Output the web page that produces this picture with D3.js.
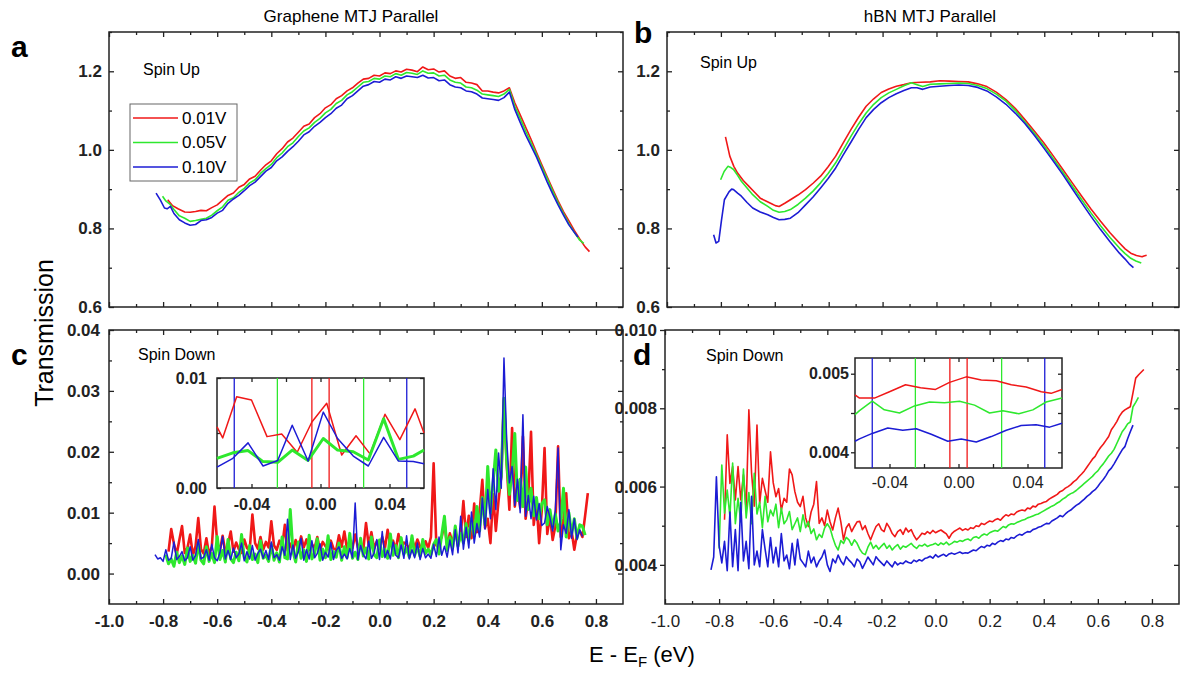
<!DOCTYPE html>
<meta charset="utf-8">
<style>
body { margin: 0; background: #fff; }
text { font-family: Arial, "Liberation Sans", sans-serif; }
.frame { fill: none; stroke: #222; stroke-width: 1.5px; }
.line { fill: none; stroke-linejoin: round; }
</style>
<body>
<script src="https://d3js.org/d3.v7.min.js"></script>
<script>

// ---------------- data ----------------
var biasLabels = ["0.01V", "0.05V", "0.10V"];
var colors = ["#f01818", "#2ee82e", "#1c1cd4"];

var xTickValues = [-1.0, -0.8, -0.6, -0.4, -0.2, 0.0, 0.2, 0.4, 0.6, 0.8];
var xMinorValues = [-0.9, -0.7, -0.5, -0.3, -0.1, 0.1, 0.3, 0.5, 0.7];
var upTickValues = [0.6, 0.8, 1.0, 1.2];
var upMinorValues = [0.7, 0.9, 1.1, 1.3];
var cTickValues = [0.00, 0.01, 0.02, 0.03, 0.04];
var cMinorValues = [0.005, 0.015, 0.025, 0.035];
var dTickValues = [0.004, 0.006, 0.008, 0.010];
var dMinorValues = [0.005, 0.007, 0.009];
var insetXTicks = [-0.04, 0.00, 0.04];
var insetXMinor = [-0.02, 0.02];
var insetCYTicks = [0.00, 0.01];
var insetDYTicks = [0.004, 0.005];
var halfBias = [0.005, 0.025, 0.05];   // +-V/2 markers in the insets

// panel a : graphene, spin up  [E, T]
var aRed = [[-0.783,0.873],[-0.765,0.858],[-0.745,0.850],[-0.72,0.842],[-0.70,0.841],[-0.68,0.843],[-0.66,0.846],[-0.64,0.845],[-0.62,0.853],[-0.60,0.860],[-0.58,0.872],[-0.56,0.884],[-0.54,0.890],[-0.52,0.905],[-0.50,0.912],[-0.48,0.926],[-0.46,0.933],[-0.44,0.948],[-0.42,0.962],[-0.40,0.972],[-0.38,0.990],[-0.36,1.003],[-0.34,1.020],[-0.32,1.030],[-0.30,1.045],[-0.28,1.060],[-0.26,1.066],[-0.24,1.082],[-0.22,1.092],[-0.20,1.107],[-0.18,1.115],[-0.16,1.130],[-0.14,1.138],[-0.12,1.150],[-0.10,1.158],[-0.08,1.170],[-0.06,1.180],[-0.04,1.182],[-0.02,1.190],[0.00,1.188],[0.02,1.196],[0.04,1.194],[0.06,1.201],[0.08,1.198],[0.10,1.205],[0.12,1.203],[0.14,1.199],[0.16,1.211],[0.18,1.204],[0.20,1.206],[0.22,1.198],[0.24,1.201],[0.26,1.188],[0.28,1.182],[0.30,1.184],[0.32,1.172],[0.34,1.170],[0.36,1.166],[0.38,1.150],[0.40,1.150],[0.42,1.147],[0.44,1.145],[0.46,1.150],[0.48,1.158],[0.50,1.120],[0.52,1.089],[0.54,1.058],[0.56,1.027],[0.58,0.994],[0.60,0.962],[0.62,0.931],[0.64,0.900],[0.66,0.870],[0.68,0.843],[0.70,0.819],[0.72,0.795],[0.74,0.773],[0.76,0.753],[0.776,0.741]];
var aGreen = [[-0.802,0.882],[-0.79,0.870],[-0.775,0.862],[-0.76,0.848],[-0.74,0.832],[-0.72,0.826],[-0.70,0.818],[-0.68,0.820],[-0.66,0.823],[-0.64,0.826],[-0.62,0.834],[-0.60,0.845],[-0.58,0.855],[-0.56,0.872],[-0.54,0.878],[-0.52,0.892],[-0.50,0.902],[-0.48,0.916],[-0.46,0.924],[-0.44,0.940],[-0.42,0.952],[-0.40,0.963],[-0.38,0.980],[-0.36,0.992],[-0.34,1.008],[-0.32,1.018],[-0.30,1.034],[-0.28,1.048],[-0.26,1.056],[-0.24,1.070],[-0.22,1.080],[-0.20,1.094],[-0.18,1.103],[-0.16,1.118],[-0.14,1.126],[-0.12,1.140],[-0.10,1.148],[-0.08,1.160],[-0.06,1.172],[-0.04,1.174],[-0.02,1.182],[0.00,1.180],[0.02,1.188],[0.04,1.186],[0.06,1.194],[0.08,1.190],[0.10,1.197],[0.12,1.195],[0.14,1.192],[0.16,1.201],[0.18,1.195],[0.20,1.196],[0.22,1.188],[0.24,1.190],[0.26,1.178],[0.28,1.172],[0.30,1.170],[0.32,1.160],[0.34,1.158],[0.36,1.152],[0.38,1.142],[0.40,1.140],[0.42,1.138],[0.44,1.136],[0.46,1.142],[0.48,1.154],[0.50,1.111],[0.52,1.080],[0.54,1.048],[0.56,1.018],[0.58,0.988],[0.60,0.956],[0.62,0.926],[0.64,0.895],[0.66,0.865],[0.68,0.838],[0.70,0.812],[0.72,0.790],[0.74,0.770],[0.755,0.762]];
var aBlue = [[-0.826,0.890],[-0.81,0.872],[-0.795,0.852],[-0.785,0.850],[-0.773,0.856],[-0.76,0.838],[-0.74,0.822],[-0.72,0.814],[-0.70,0.808],[-0.68,0.810],[-0.66,0.820],[-0.64,0.822],[-0.62,0.828],[-0.60,0.839],[-0.58,0.846],[-0.56,0.864],[-0.54,0.875],[-0.52,0.884],[-0.50,0.896],[-0.48,0.909],[-0.46,0.918],[-0.44,0.932],[-0.42,0.946],[-0.40,0.955],[-0.38,0.972],[-0.36,0.982],[-0.34,0.996],[-0.32,1.008],[-0.30,1.022],[-0.28,1.038],[-0.26,1.046],[-0.24,1.060],[-0.22,1.070],[-0.20,1.082],[-0.18,1.092],[-0.16,1.106],[-0.14,1.114],[-0.12,1.130],[-0.10,1.138],[-0.08,1.150],[-0.06,1.162],[-0.04,1.166],[-0.02,1.174],[0.00,1.172],[0.02,1.180],[0.04,1.178],[0.06,1.186],[0.08,1.182],[0.10,1.188],[0.12,1.186],[0.14,1.184],[0.16,1.190],[0.18,1.183],[0.20,1.184],[0.22,1.176],[0.24,1.178],[0.26,1.166],[0.28,1.160],[0.30,1.158],[0.32,1.150],[0.34,1.148],[0.36,1.142],[0.38,1.132],[0.40,1.130],[0.42,1.128],[0.44,1.126],[0.46,1.133],[0.48,1.147],[0.50,1.103],[0.52,1.070],[0.54,1.038],[0.56,1.010],[0.58,0.982],[0.60,0.950],[0.62,0.918],[0.64,0.888],[0.66,0.860],[0.68,0.834],[0.70,0.809],[0.72,0.790],[0.733,0.778]];

// panel b : hBN, spin up  [E, T]
var bRed = [[-0.783,1.033],[-0.767,0.984],[-0.752,0.958],[-0.738,0.941],[-0.717,0.922],[-0.696,0.907],[-0.675,0.892],[-0.654,0.877],[-0.633,0.870],[-0.612,0.863],[-0.598,0.858],[-0.584,0.856],[-0.563,0.864],[-0.542,0.873],[-0.514,0.885],[-0.486,0.899],[-0.458,0.915],[-0.430,0.933],[-0.402,0.957],[-0.374,0.984],[-0.346,1.018],[-0.317,1.052],[-0.289,1.083],[-0.261,1.111],[-0.233,1.130],[-0.205,1.146],[-0.177,1.155],[-0.149,1.162],[-0.121,1.166],[-0.093,1.171],[-0.058,1.172],[-0.023,1.173],[0.012,1.176],[0.048,1.175],[0.083,1.174],[0.118,1.173],[0.153,1.168],[0.187,1.161],[0.222,1.147],[0.258,1.128],[0.293,1.105],[0.328,1.077],[0.363,1.048],[0.398,1.018],[0.434,0.984],[0.469,0.950],[0.504,0.916],[0.539,0.882],[0.574,0.849],[0.609,0.818],[0.644,0.789],[0.679,0.763],[0.700,0.748],[0.721,0.737],[0.742,0.731],[0.763,0.728],[0.770,0.730],[0.780,0.732]];
var bGreen = [[-0.801,0.924],[-0.788,0.945],[-0.774,0.958],[-0.763,0.955],[-0.753,0.950],[-0.738,0.935],[-0.724,0.920],[-0.703,0.903],[-0.682,0.886],[-0.654,0.868],[-0.626,0.856],[-0.605,0.846],[-0.584,0.841],[-0.563,0.843],[-0.542,0.848],[-0.514,0.861],[-0.486,0.877],[-0.458,0.895],[-0.430,0.916],[-0.402,0.940],[-0.374,0.967],[-0.346,1.000],[-0.317,1.035],[-0.289,1.066],[-0.261,1.094],[-0.233,1.116],[-0.205,1.133],[-0.177,1.145],[-0.149,1.154],[-0.121,1.163],[-0.093,1.171],[-0.072,1.166],[-0.051,1.161],[-0.023,1.167],[0.012,1.168],[0.048,1.169],[0.083,1.170],[0.118,1.169],[0.153,1.164],[0.187,1.156],[0.222,1.142],[0.258,1.124],[0.293,1.100],[0.328,1.071],[0.363,1.042],[0.398,1.011],[0.434,0.977],[0.469,0.943],[0.504,0.908],[0.539,0.873],[0.574,0.839],[0.609,0.807],[0.644,0.777],[0.679,0.750],[0.700,0.736],[0.721,0.724],[0.740,0.717],[0.760,0.712]];
var bBlue = [[-0.827,0.784],[-0.818,0.763],[-0.808,0.767],[-0.798,0.820],[-0.787,0.873],[-0.770,0.893],[-0.760,0.900],[-0.753,0.899],[-0.738,0.890],[-0.724,0.882],[-0.703,0.866],[-0.682,0.852],[-0.654,0.842],[-0.626,0.835],[-0.605,0.828],[-0.584,0.822],[-0.563,0.823],[-0.542,0.826],[-0.514,0.840],[-0.486,0.860],[-0.458,0.880],[-0.430,0.903],[-0.402,0.927],[-0.374,0.954],[-0.346,0.987],[-0.317,1.020],[-0.289,1.052],[-0.261,1.082],[-0.233,1.103],[-0.205,1.120],[-0.177,1.133],[-0.149,1.143],[-0.121,1.151],[-0.093,1.158],[-0.072,1.158],[-0.051,1.154],[-0.023,1.160],[0.012,1.162],[0.048,1.164],[0.083,1.165],[0.118,1.164],[0.153,1.159],[0.187,1.150],[0.222,1.135],[0.258,1.116],[0.293,1.093],[0.328,1.067],[0.363,1.037],[0.398,1.005],[0.434,0.971],[0.469,0.937],[0.504,0.901],[0.539,0.865],[0.574,0.830],[0.609,0.797],[0.644,0.766],[0.679,0.737],[0.700,0.722],[0.715,0.710],[0.731,0.700]];

// panels c, d : spin down on a 0.01 eV grid, values in units of 1e-3
var gridStep = 0.01;
var cRedStart = -0.78, cGreenStart = -0.79, cBlueStart = -0.83;
var cRed = [3.6,7.3,4.9,3.1,5.5,7.8,3.4,4.2,6.4,3.0,
  4.5,9.1,4.0,3.3,5.8,3.1,4.4,11.0,5.0,3.8,
  6.2,3.5,4.8,6.9,3.6,5.1,4.0,3.4,5.6,4.2,
  3.8,9.7,5.0,4.1,6.0,3.9,5.2,4.3,8.6,4.6,
  3.9,5.4,4.4,8.0,3.8,4.9,3.7,5.5,4.0,6.1,
  4.3,5.6,3.9,4.8,4.2,6.0,3.8,5.2,4.5,4.0,
  5.4,4.1,3.9,6.3,4.4,6.9,4.0,5.5,4.2,6.4,
  4.3,5.0,3.9,8.3,4.6,6.8,4.1,5.3,4.4,6.0,
  4.2,7.2,4.6,5.4,3.9,6.5,4.3,5.1,4.8,4.0,
  5.8,4.1,5.6,4.4,3.9,5.3,4.2,6.0,18.1,4.6,
  5.2,6.0,8.3,4.5,6.6,5.0,7.0,4.8,6.2,11.9,
  6.0,9.5,5.8,11.5,6.8,10.2,15.4,7.5,9.0,5.0,
  13.0,7.0,12.0,16.0,28.5,18.0,10.5,23.9,11.0,14.5,
  10.8,22.5,9.0,12.5,23.3,8.0,12.0,5.0,10.5,20.6,
  6.5,9.5,5.5,7.8,20.9,6.0,9.0,13.2,5.8,7.0,
  3.9,6.5,7.0,6.0,9.5,13.2];
var cGreen = [3.1,1.6,2.4,1.2,3.5,1.8,2.9,1.5,4.2,2.0,
  3.0,1.7,5.0,2.2,1.6,4.4,2.0,3.3,1.8,6.1,
  2.3,3.8,1.9,5.6,2.4,1.8,3.5,2.1,6.4,2.6,
  1.9,4.6,2.3,3.2,1.8,5.4,2.5,3.0,2.0,4.8,
  2.2,3.4,1.9,6.0,2.6,2.4,10.5,3.6,1.9,5.2,
  2.5,3.9,2.0,6.3,2.4,3.3,5.7,2.2,4.0,2.6,
  6.2,2.3,3.6,2.7,5.0,2.2,4.4,2.6,6.6,2.5,
  3.5,2.3,5.8,2.9,4.2,2.4,6.0,3.1,2.6,5.5,
  2.8,4.0,2.5,6.5,3.0,4.6,2.6,5.9,3.2,4.1,
  2.7,6.2,3.0,4.4,2.8,5.6,3.3,4.0,3.1,4.8,
  5.6,3.2,6.4,9.4,3.8,6.0,4.2,7.8,4.5,6.6,
  5.0,8.2,5.5,9.0,6.2,11.0,7.0,12.5,8.0,17.6,
  10.0,15.0,20.3,13.5,16.0,28.8,18.5,13.0,16.5,23.0,
  12.0,15.5,11.0,17.5,10.5,14.0,9.5,12.5,9.0,11.5,
  12.1,8.0,10.5,7.5,9.8,7.0,8.5,14.0,6.0,10.0,
  6.5,9.0,5.8,8.0,7.8,6.3];
var cBlue = [3.1,2.4,2.6,2.0,3.9,2.2,2.5,5.2,2.3,2.8,
  3.6,2.1,2.6,4.4,2.2,3.0,5.6,2.4,2.7,3.9,
  2.2,4.8,2.6,2.1,3.4,6.1,2.4,3.8,2.3,4.2,
  2.6,3.2,5.0,2.1,3.6,2.4,4.6,2.2,3.3,4.0,
  2.5,3.8,2.3,5.2,2.6,3.1,2.2,4.4,3.0,8.9,
  2.3,4.7,2.5,3.6,5.8,2.2,3.9,2.4,5.4,2.6,
  3.3,4.9,2.2,3.5,2.7,5.1,2.3,3.8,4.4,2.5,
  3.2,2.4,4.1,2.6,11.6,2.3,4.6,3.1,2.4,5.3,
  2.5,3.4,5.6,2.3,6.9,2.6,3.8,2.4,5.2,3.0,
  2.6,4.7,2.5,6.2,2.4,3.9,2.6,5.0,2.3,4.1,
  2.6,3.2,2.5,4.8,2.8,6.0,3.0,4.5,2.7,5.5,
  3.1,7.2,3.4,9.4,4.0,7.6,4.2,10.1,5.0,8.2,
  6.0,12.4,7.3,13.8,9.0,17.2,10.5,19.8,14.0,35.4,
  22.0,14.9,17.6,11.2,15.5,10.0,26.1,9.4,12.8,9.0,
  12.7,8.8,11.5,7.9,8.3,11.0,9.2,7.0,10.5,20.6,
  3.9,8.0,6.6,10.5,5.8,9.0,5.6,7.2,6.1];

var dRedStart = -0.78, dGreenStart = -0.80, dBlueStart = -0.83;
var dRed = [5.15,7.32,6.08,6.51,5.66,6.51,5.66,6.30,5.40,7.96,
  6.34,5.50,7.57,5.57,6.21,5.90,5.60,6.89,6.10,5.74,
  5.95,5.40,5.70,5.60,6.45,6.30,5.87,5.60,5.49,5.75,
  5.20,4.98,5.35,5.55,6.13,5.06,5.20,5.00,5.40,5.10,
  4.89,5.20,5.45,5.10,4.64,4.95,5.05,4.85,4.98,5.10,
  5.11,4.90,5.00,4.80,4.64,4.82,4.98,5.05,4.90,4.85,
  5.06,4.95,4.80,4.72,4.85,4.90,4.78,4.94,4.84,4.90,
  4.75,4.64,4.72,4.81,4.78,4.85,4.80,4.88,4.82,4.86,
  4.89,4.84,4.79,4.68,4.80,4.86,4.90,4.94,4.88,4.92,
  4.89,4.95,4.93,5.00,4.98,5.06,5.03,5.08,5.12,5.10,
  5.15,5.18,5.14,5.22,5.28,5.25,5.30,5.28,5.35,5.38,
  5.40,5.38,5.45,5.43,5.50,5.48,5.55,5.57,5.60,5.62,
  5.68,5.72,5.76,5.80,5.87,5.90,5.96,6.00,6.05,6.12,
  6.17,6.25,6.32,6.40,6.50,6.60,6.70,6.77,6.90,7.00,
  7.08,7.18,7.28,7.45,7.55,7.66,7.80,7.90,7.96,8.00,
  8.04,8.40,8.77,8.85,8.92,8.99];
var dGreen = [4.42,6.55,5.32,5.91,5.23,6.60,5.05,5.70,5.10,6.45,
  5.20,5.85,5.05,6.34,5.30,5.60,4.95,5.75,5.10,5.40,
  5.25,5.55,4.95,5.45,5.05,5.15,5.36,4.90,5.05,5.20,
  4.85,5.28,4.95,5.10,4.80,4.92,4.64,4.78,4.70,4.94,
  5.05,4.94,4.70,4.50,4.38,4.62,4.55,4.70,4.64,4.50,
  4.64,4.55,4.40,4.30,4.26,4.45,4.58,4.42,4.50,4.40,
  4.48,4.55,4.42,4.50,4.38,4.46,4.52,4.40,4.48,4.45,
  4.50,4.55,4.47,4.42,4.50,4.48,4.53,4.47,4.50,4.52,
  4.55,4.50,4.56,4.52,4.58,4.51,4.55,4.60,4.58,4.62,
  4.60,4.64,4.66,4.62,4.70,4.72,4.68,4.75,4.79,4.76,
  4.82,4.85,4.88,4.86,4.92,4.98,4.95,5.02,5.05,5.04,
  5.08,5.11,5.14,5.16,5.20,5.22,5.25,5.28,5.30,5.34,
  5.38,5.42,5.46,5.50,5.53,5.58,5.62,5.68,5.72,5.78,
  5.82,5.85,5.90,5.96,6.02,6.08,6.14,6.20,6.26,6.34,
  6.40,6.50,6.58,6.68,6.78,6.85,6.95,7.10,7.25,7.40,
  7.49,7.60,7.65,8.04,8.15,8.28];
var dBlue = [3.87,4.20,6.25,4.50,4.05,4.60,3.85,5.35,3.95,4.90,
  3.85,5.60,4.10,4.60,3.90,5.75,4.00,4.35,3.95,4.90,
  4.40,3.95,4.70,4.05,4.45,3.95,4.80,4.10,4.25,3.90,
  4.55,4.00,4.65,4.15,4.05,3.95,4.35,4.05,4.20,3.95,
  4.10,4.20,4.38,4.00,3.83,4.15,4.05,4.25,4.10,4.00,
  4.21,4.12,4.05,3.95,4.15,4.08,3.91,4.05,4.20,4.10,
  4.00,4.21,4.12,4.05,3.98,4.10,4.02,3.95,4.08,4.00,
  4.05,4.03,4.10,4.06,4.04,4.12,4.08,4.13,4.10,4.16,
  4.18,4.22,4.17,4.26,4.20,4.24,4.27,4.22,4.28,4.30,
  4.27,4.30,4.33,4.29,4.31,4.30,4.34,4.38,4.36,4.42,
  4.47,4.44,4.50,4.48,4.55,4.52,4.58,4.62,4.60,4.66,
  4.64,4.70,4.68,4.74,4.78,4.76,4.81,4.85,4.84,4.90,
  4.92,4.96,4.98,5.02,5.06,5.05,5.12,5.16,5.20,5.26,
  5.23,5.30,5.36,5.40,5.46,5.52,5.56,5.62,5.68,5.75,
  5.80,5.87,5.92,6.00,6.10,6.18,6.28,6.40,6.47,6.58,
  6.70,6.82,6.94,7.02,7.22,7.40,7.57];

// insets (zoom near E_F)  [E, T]
var icRed = [[-0.060,0.00555],[-0.0567,0.00455],[-0.0486,0.0083],[-0.040,0.0080],[-0.031,0.00467],[-0.0225,0.0049],[-0.0135,0.00325],[-0.005,0.0060],[0.0036,0.0077],[0.0123,0.0030],[0.0206,0.00475],[0.0287,0.0031],[0.0374,0.0067],[0.046,0.0044],[0.0548,0.0072],[0.060,0.0050]];
var icGreen = [[-0.060,0.0027],[-0.0508,0.0032],[-0.042,0.0034],[-0.0333,0.0024],[-0.0248,0.00233],[-0.0164,0.00345],[-0.0072,0.0025],[0.0016,0.0045],[0.0099,0.00345],[0.019,0.0033],[0.0277,0.00255],[0.0366,0.0063],[0.0452,0.0026],[0.0538,0.0029],[0.060,0.00345]];
var icBlue = [[-0.060,0.0019],[-0.0508,0.0027],[-0.042,0.0041],[-0.0333,0.0020],[-0.0248,0.0025],[-0.0164,0.0057],[-0.0072,0.00245],[0.0016,0.0069],[0.0099,0.0045],[0.019,0.0029],[0.0277,0.0020],[0.0366,0.0046],[0.0452,0.00245],[0.0538,0.0024],[0.060,0.0022]];
var idRed = [[-0.060,0.00473],[-0.0574,0.00469],[-0.0487,0.00469],[-0.040,0.00477],[-0.0307,0.00486],[-0.022,0.00482],[-0.0133,0.0048],[-0.0052,0.00489],[0.0045,0.00496],[0.0132,0.00492],[0.0219,0.00491],[0.0306,0.00486],[0.0392,0.00483],[0.048,0.00477],[0.0537,0.00475],[0.060,0.0048]];
var idGreen = [[-0.060,0.00448],[-0.0574,0.00453],[-0.050,0.00465],[-0.043,0.00454],[-0.0342,0.0045],[-0.0255,0.00459],[-0.0168,0.00464],[-0.0081,0.00463],[0.0006,0.00465],[0.0093,0.0046],[0.018,0.0045],[0.0257,0.00453],[0.035,0.00449],[0.0431,0.00454],[0.0508,0.00464],[0.060,0.00469]];
var idBlue = [[-0.060,0.00414],[-0.0574,0.00417],[-0.050,0.00424],[-0.041,0.00431],[-0.0323,0.00428],[-0.0245,0.0043],[-0.0158,0.00423],[-0.0062,0.00414],[0.0016,0.00417],[0.0103,0.00413],[0.019,0.0042],[0.0277,0.00428],[0.0363,0.00434],[0.045,0.00435],[0.0528,0.00432],[0.060,0.00437]];

// ---------------- drawing ----------------
var svg = d3.select("body").append("svg")
    .attr("width", 1183)
    .attr("height", 673);

svg.append("rect").attr("width", 1183).attr("height", 673).attr("fill", "#fff");

function gridSeries(start, vals) {
  return vals.map(function(v, i) { return [start + i * gridStep, v / 1000]; });
}

function styleAxis(sel, size, weight) {
  sel.select(".domain").remove();
  sel.attr("font-size", size)
     .attr("font-family", "Arial, 'Liberation Sans', sans-serif")
     .attr("font-weight", weight)
     .attr("color", "#222");
  sel.selectAll("line").attr("stroke-width", 1.3);
}

// draws frame + ticks on four sides, returns the scales
function panel(p) {
  var x = d3.scaleLinear().domain(p.xDomain).range([p.left, p.right]);
  var y = d3.scaleLinear().domain(p.yDomain).range([p.bottom, p.top]);
  var g = svg.append("g");
  g.append("rect")
      .attr("x", p.left).attr("y", p.top)
      .attr("width", p.right - p.left).attr("height", p.bottom - p.top)
      .attr("fill", "#fff");
  var tk = p.tick, mk = p.minor;

  // bottom
  g.append("g").attr("transform", "translate(0," + p.bottom + ")")
      .call(d3.axisBottom(x).tickValues(p.xTicks).tickSize(-tk).tickPadding(p.xPad)
        .tickFormat(p.xFormat ? p.xFormat : ""))
      .call(styleAxis, p.xFont, p.xWeight);
  g.append("g").attr("transform", "translate(0," + p.bottom + ")")
      .call(d3.axisBottom(x).tickValues(p.xMinor).tickSize(-mk).tickFormat(""))
      .call(styleAxis, 10, "normal");
  // top
  g.append("g").attr("transform", "translate(0," + p.top + ")")
      .call(d3.axisTop(x).tickValues(p.xTicks).tickSize(-tk).tickFormat(""))
      .call(styleAxis, 10, "normal");
  g.append("g").attr("transform", "translate(0," + p.top + ")")
      .call(d3.axisTop(x).tickValues(p.xMinor).tickSize(-mk).tickFormat(""))
      .call(styleAxis, 10, "normal");
  // left
  var out = p.leftOut ? 1 : -1;
  g.append("g").attr("transform", "translate(" + p.left + ",0)")
      .call(d3.axisLeft(y).tickValues(p.yTicks).tickSize(out * tk).tickPadding(p.yPad)
        .tickFormat(p.yFormat))
      .call(styleAxis, p.yFont, "bold");
  g.append("g").attr("transform", "translate(" + p.left + ",0)")
      .call(d3.axisLeft(y).tickValues(p.yMinor).tickSize(out * mk).tickFormat(""))
      .call(styleAxis, 10, "normal");
  // right
  g.append("g").attr("transform", "translate(" + p.right + ",0)")
      .call(d3.axisRight(y).tickValues(p.yTicks).tickSize(-tk).tickFormat(""))
      .call(styleAxis, 10, "normal");
  g.append("g").attr("transform", "translate(" + p.right + ",0)")
      .call(d3.axisRight(y).tickValues(p.yMinor).tickSize(-mk).tickFormat(""))
      .call(styleAxis, 10, "normal");

  var lines = svg.append("g");
  g.append("rect").attr("class", "frame")
      .attr("x", p.left).attr("y", p.top)
      .attr("width", p.right - p.left).attr("height", p.bottom - p.top);
  return {x: x, y: y, g: lines};
}

function drawLines(pn, series, widths) {
  var line = d3.line()
      .x(function(d) { return pn.x(d[0]); })
      .y(function(d) { return pn.y(d[1]); });
  series.forEach(function(s, i) {
    pn.g.append("path")
        .datum(s)
        .attr("class", "line")
        .attr("stroke", colors[i])
        .attr("stroke-width", widths[i])
        .attr("d", line);
  });
}

var f1 = function(d) { return d.toFixed(1); };
var f2 = function(d) { return d.toFixed(2); };
var f3 = function(d) { return d.toFixed(3); };

// a : graphene spin up
var pa = panel({left: 109, right: 623, top: 32, bottom: 307, xDomain: [-1.0, 0.9], yDomain: [0.6, 1.3],
  xTicks: xTickValues, xMinor: xMinorValues, yTicks: upTickValues, yMinor: upMinorValues,
  tick: 5, minor: 3, xPad: 10, yPad: 7, xFont: 17, xWeight: "bold", yFont: 17, yFormat: f1});
drawLines(pa, [aRed, aGreen, aBlue], [1.6, 1.6, 1.6]);

// b : hBN spin up
var pb = panel({left: 667, right: 1179, top: 32, bottom: 307, xDomain: [-1.0, 0.9], yDomain: [0.6, 1.3],
  xTicks: xTickValues, xMinor: xMinorValues, yTicks: upTickValues, yMinor: upMinorValues,
  tick: 5, minor: 3, xPad: 10, yPad: 7, xFont: 17, xWeight: "bold", yFont: 17, yFormat: f1});
drawLines(pb, [bRed, bGreen, bBlue], [1.6, 1.6, 1.6]);

// c : graphene spin down
var pc = panel({left: 109, right: 623, top: 330, bottom: 604, xDomain: [-1.0, 0.9], yDomain: [-0.005, 0.04],
  xTicks: xTickValues, xMinor: xMinorValues, yTicks: cTickValues, yMinor: cMinorValues,
  tick: 5, minor: 3, xPad: 11, yPad: 9, xFont: 17, xWeight: "bold", xFormat: f1, yFont: 17, yFormat: f2});
drawLines(pc, [gridSeries(cRedStart, cRed), gridSeries(cGreenStart, cGreen), gridSeries(cBlueStart, cBlue)], [2.6, 3, 1.5]);

// d : hBN spin down
var pd = panel({left: 665, right: 1179, top: 330, bottom: 604, xDomain: [-1.0, 0.9], yDomain: [0.003, 0.010],
  xTicks: xTickValues, xMinor: xMinorValues, yTicks: dTickValues, yMinor: dMinorValues,
  tick: 5, minor: 3, xPad: 11, yPad: 3, leftOut: true, xFont: 17, xWeight: "normal", xFormat: f1, yFont: 17, yFormat: f3});
drawLines(pd, [gridSeries(dRedStart, dRed), gridSeries(dGreenStart, dGreen), gridSeries(dBlueStart, dBlue)], [1.6, 1.6, 1.6]);

// insets
function insetMarkers(pn) {
  halfBias.forEach(function(v, i) {
    [-v, v].forEach(function(e) {
      pn.g.append("line")
          .attr("x1", pn.x(e)).attr("x2", pn.x(e))
          .attr("y1", pn.y.range()[0]).attr("y2", pn.y.range()[1])
          .attr("stroke", colors[i]).attr("stroke-width", 1.3);
    });
  });
}

var ic = panel({left: 217, right: 424, top: 378, bottom: 488, xDomain: [-0.06, 0.06], yDomain: [0, 0.01],
  xTicks: insetXTicks, xMinor: insetXMinor, yTicks: insetCYTicks, yMinor: [0.005],
  tick: 4, minor: 4, xPad: 11, yPad: 10, xFont: 16, xWeight: "bold", xFormat: f2, yFont: 16, yFormat: f2});
insetMarkers(ic);
drawLines(ic, [icRed, icGreen, icBlue], [1.5, 3, 1.5]);

var id = panel({left: 855, right: 1062, top: 358, bottom: 468, xDomain: [-0.06, 0.06], yDomain: [0.0038, 0.0052],
  xTicks: insetXTicks, xMinor: insetXMinor, yTicks: insetDYTicks, yMinor: [0.0045],
  tick: 4, minor: 4, xPad: 9, yPad: 2, leftOut: true, xFont: 16, xWeight: "normal", xFormat: f2, yFont: 16, yFormat: f3});
insetMarkers(id);
drawLines(id, [idRed, idGreen, idBlue], [1.5, 1.5, 1.5]);

// legend (panel a)
var leg = svg.append("g");
leg.append("rect").attr("x", 130).attr("y", 104).attr("width", 107).attr("height", 77)
    .attr("fill", "#fff").attr("stroke", "#666").attr("stroke-width", 1);
biasLabels.forEach(function(lab, i) {
  var yy = 118 + i * 24.5;
  leg.append("line").attr("x1", 133).attr("x2", 178).attr("y1", yy).attr("y2", yy)
      .attr("stroke", colors[i]).attr("stroke-width", 1.6);
  leg.append("text").attr("x", 182).attr("y", yy).attr("dy", "0.35em")
      .attr("font-size", 17).text(lab);
});

// titles, spin labels, panel letters
svg.append("text").attr("x", 351).attr("y", 22).attr("text-anchor", "middle")
    .attr("font-size", 17).text("Graphene MTJ Parallel");
svg.append("text").attr("x", 930).attr("y", 22).attr("text-anchor", "middle")
    .attr("font-size", 17).text("hBN MTJ Parallel");

svg.append("text").attr("x", 143).attr("y", 75).attr("font-size", 16).text("Spin Up");
svg.append("text").attr("x", 700).attr("y", 68).attr("font-size", 16).text("Spin Up");
svg.append("text").attr("x", 138).attr("y", 360).attr("font-size", 16).text("Spin Down");
svg.append("text").attr("x", 706).attr("y", 361).attr("font-size", 16).text("Spin Down");

[["a", 11, 57], ["b", 634, 43], ["c", 11, 365], ["d", 633, 365]].forEach(function(l) {
  svg.append("text").attr("x", l[1]).attr("y", l[2])
      .attr("font-size", 30).attr("font-weight", "bold").text(l[0]);
});

// axis titles
svg.append("text")
    .attr("transform", "translate(53,333) rotate(-90)")
    .attr("text-anchor", "middle")
    .attr("font-size", 25)
    .text("Transmission");

var xt = svg.append("text").attr("x", 589).attr("y", 662).attr("font-size", 22);
xt.append("tspan").text("E - E");
xt.append("tspan").attr("font-size", 15).attr("dy", 5).text("F");
xt.append("tspan").attr("dy", -5).text(" (eV)");

</script>
</body>
